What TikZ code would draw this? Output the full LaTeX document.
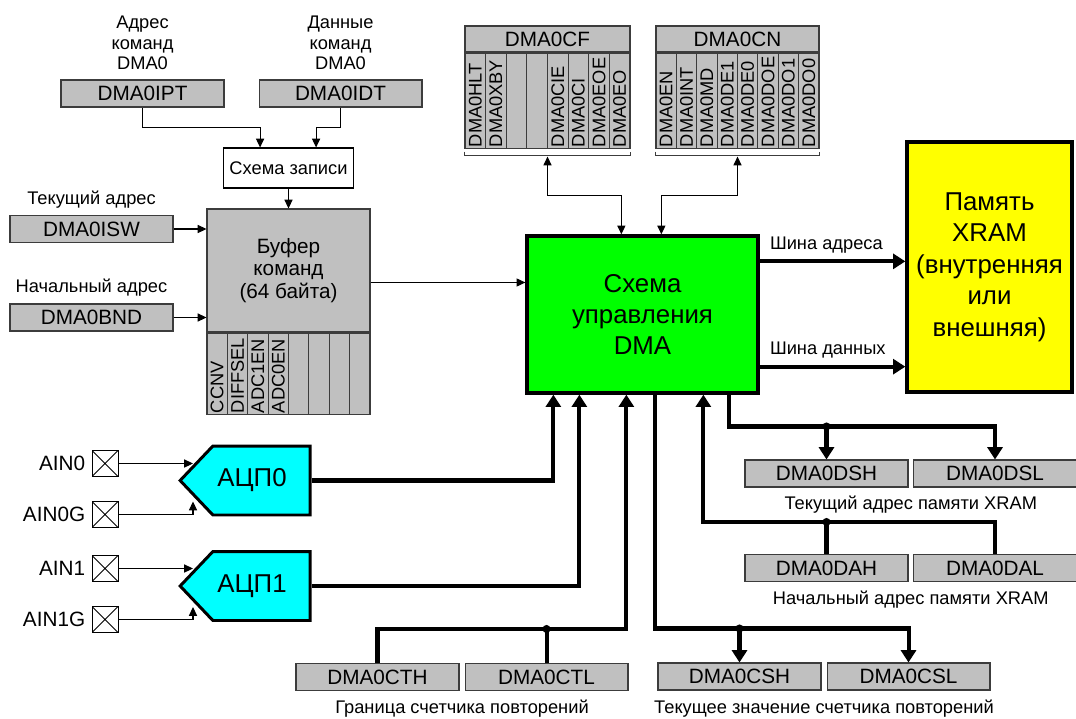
\documentclass[tikz,border=0pt]{standalone}
\usepackage{fontspec}
\setmainfont{Liberation Sans}
\usepackage{xcolor}
\usepackage{tikz}
\usetikzlibrary{arrows.meta, positioning, calc, shapes.symbols}

\definecolor{regfill}{RGB}{192,192,192}
\definecolor{regline}{RGB}{60,60,60}
\definecolor{ctrlfill}{RGB}{0,255,0}
\definecolor{memfill}{RGB}{255,255,0}
\definecolor{adcfill}{RGB}{0,255,255}

\newcommand\regfnt{\fontsize{11.8}{12.6}\selectfont}
\newcommand\lblfnt{\fontsize{10.4}{11.9}\selectfont}
\newcommand\bigfnt{\fontsize{14.7}{17.9}\selectfont}

\tikzset{
  %% Register box
  reg/.style={
    rectangle, draw=regline, fill=regfill,
    minimum width=3.26cm, minimum height=0.54cm,
    inner sep=0pt, font=\regfnt, line width=0.6pt
  },
  %% One bit of a register
  bitcell/.style={
    rectangle, draw=regline, fill=regfill,
    minimum width=#1, inner sep=0pt, line width=0.6pt
  },
  bittxt/.style={rotate=90, anchor=west, inner sep=0.6pt, font=\lblfnt},
  %% Plain label
  lbl/.style={font=\lblfnt, inner sep=0pt, align=center},
  %% Input pad
  pad/.style={
    rectangle, draw, minimum size=0.52cm, inner sep=0pt, line width=0.5pt,
    path picture={
      \draw[line width=0.5pt]
        (path picture bounding box.south west) -- (path picture bounding box.north east)
        (path picture bounding box.north west) -- (path picture bounding box.south east);
    }
  },
  %% ADC block
  adc/.style={
    signal, signal to=west, signal pointer angle=93,
    draw=black, fill=adcfill, line width=1.7pt,
    minimum width=2.6cm, minimum height=1.38cm,
    inner sep=0pt, font=\bigfnt
  },
  %% Arrows and buses
  arr/.style={-{Triangle[length=5pt,width=4.6pt]}, line width=0.6pt},
  darr/.style={{Triangle[length=5pt,width=4.6pt]}-{Triangle[length=5pt,width=4.6pt]},
               line width=0.6pt},
  bus/.style={line width=2.3pt},
  busarr/.style={bus, -{Triangle[length=7pt,width=8.5pt]}},
  dot/.style={circle, fill=black, inner sep=0pt, minimum size=4.6pt},
}

\begin{document}
\begin{tikzpicture}[x=0.02cm, y=-0.02cm]
  \useasboundingbox (0,0) rectangle (1076,718);

  %% Command address / data registers
  \node[reg] (ipt) at (142.5,93.5) {DMA0IPT};
  \node[reg, right=0.68cm of ipt] (idt) {DMA0IDT};
  \node[lbl, above=0.18cm of ipt] (iptlbl) {Адрес\\команд\\DMA0};
  \node[lbl, above=0.18cm of idt] (idtlbl) {Данные\\команд\\DMA0};

  %% Write logic
  \node[rectangle, draw, fill=white, line width=0.6pt, font=\lblfnt,
        minimum width=2.58cm, minimum height=0.8cm] (wr) at (288.5,168)
        {Схема записи};

  %% Command buffer
  \node[reg, minimum height=2.46cm, align=center] (buf) at (288.5,270.5)
        {Буфер\\команд\\(64 байта)};
  \foreach \b [count=\i] in {CCNV,DIFFSEL,ADC1EN,ADC0EN,{},{},{},{}} {
    \node[bitcell=0.4075cm, minimum height=1.62cm, anchor=north west] (bf\i)
          at ($(buf.south west)+(\i*20.375-20.375,0)$) {};
    \node[bittxt] at (bf\i.south) {\b};
  }

  %% Current / start address
  \node[reg] (isw) at (91.5,229) {DMA0ISW};
  \node[lbl, above=0.13cm of isw] (iswlbl) {Текущий адрес};
  \node[reg] (bnd) at (91.5,317.5) {DMA0BND};
  \node[lbl, above=0.13cm of bnd] (bndlbl) {Начальный адрес};

  %% DMA control and XRAM
  \node[rectangle, draw, fill=ctrlfill, line width=1.9pt, align=center,
        font=\bigfnt, minimum width=4.62cm, minimum height=3.14cm]
        (ctrl) at (642.5,314.5) {Схема\\управления\\DMA};
  \node[rectangle, draw, fill=memfill, line width=1.9pt, align=center,
        font=\bigfnt, minimum width=3.3cm, minimum height=5cm]
        (xram) at (989.5,267) {Память\\XRAM\\(внутренняя\\или\\внешняя)};

  %% DMA0CF
  \node[reg, minimum width=3.3cm, minimum height=0.52cm] (cf) at (547.5,39) {DMA0CF};
  \foreach \b [count=\i] in {DMA0HLT,DMA0XBY,{},{},DMA0CIE,DMA0CI,DMA0EOE,DMA0EO} {
    \node[bitcell=0.4125cm, minimum height=1.9cm, anchor=north west] (cf\i)
          at ($(cf.south west)+(\i*20.625-20.625,0)$) {};
    \node[bittxt] at (cf\i.south) {\b};
  }
  \draw[draw=regline, line width=0.6pt] ($(cf1.south west)+(0,3)$) -- ++(0,4)
        -| ($(cf8.south east)+(0,3)$);

  %% DMA0CN
  \node[reg, minimum width=3.26cm, minimum height=0.52cm] (cn) at (737.5,39) {DMA0CN};
  \foreach \b [count=\i] in {DMA0EN,DMA0INT,DMA0MD,DMA0DE1,DMA0DE0,DMA0DOE,DMA0DO1,DMA0DO0} {
    \node[bitcell=0.4075cm, minimum height=1.9cm, anchor=north west] (cn\i)
          at ($(cn.south west)+(\i*20.375-20.375,0)$) {};
    \node[bittxt] at (cn\i.south) {\b};
  }
  \draw[draw=regline, line width=0.6pt] ($(cn1.south west)+(0,3)$) -- ++(0,4)
        -| ($(cn8.south east)+(0,3)$);

  %% ADCs and pads
  \node[adc] (adc0) at (261.5,480.5) {\hspace*{-0.38cm}АЦП0};
  \node[adc] (adc1) at (261.5,586) {\hspace*{-0.38cm}АЦП1};
  \node[pad] (p0)  at (105,463.5) {};
  \node[pad] (p0g) at (105,514.5) {};
  \node[pad] (p1)  at (105,568.5) {};
  \node[pad] (p1g) at (105,619.5) {};
  \node[lbl, font=\regfnt, left=0.12cm of p0]  (p0l)  {AIN0};
  \node[lbl, font=\regfnt, left=0.12cm of p0g] (p0gl) {AIN0G};
  \node[lbl, font=\regfnt, left=0.12cm of p1]  (p1l)  {AIN1};
  \node[lbl, font=\regfnt, left=0.12cm of p1g] (p1gl) {AIN1G};

  %% Address registers in XRAM
  \node[reg] (dsh) at (826.5,473.5) {DMA0DSH};
  \node[reg, right=0.09cm of dsh] (dsl) {DMA0DSL};
  \coordinate (dsmid) at ($(dsh.south)!.5!(dsl.south)$);
  \node[lbl, below=0.17cm of dsmid] (dslbl) {Текущий адрес памяти XRAM};
  \node[reg] (dah) at (826.5,568) {DMA0DAH};
  \node[reg, right=0.09cm of dah] (dal) {DMA0DAL};
  \coordinate (damid) at ($(dah.south)!.5!(dal.south)$);
  \node[lbl, below=0.17cm of damid] (dalbl) {Начальный адрес памяти XRAM};

  %% Repeat counters
  \node[reg] (cth) at (377.5,677) {DMA0CTH};
  \node[reg, right=0.1cm of cth] (ctl) {DMA0CTL};
  \coordinate (ctmid) at ($(cth.south)!.5!(ctl.south)$);
  \node[lbl, below=0.18cm of ctmid] (ctlbl) {Граница счетчика повторений};
  \node[reg] (csh) at (739.5,676.5) {DMA0CSH};
  \node[reg, right=0.1cm of csh] (csl) {DMA0CSL};
  \coordinate (csmid) at ($(csh.south)!.5!(csl.south)$);
  \node[lbl, below=0.18cm of csmid] (cslbl) {Текущее значение счетчика повторений};

  %% Thin arrows
  \coordinate (wrin1) at ($(wr.north west)+(37,0)$);
  \coordinate (wrin2) at ($(wr.north west)+(93,0)$);
  \draw[arr] (ipt.south) -- ++(0,20) -| (wrin1);
  \draw[arr] (idt.south) -- ++(0,20) -| (wrin2);
  \draw[arr] (wr) -- (buf);
  \draw[arr] (isw) -- (isw -| buf.west);
  \draw[arr] (bnd) -- (bnd -| buf.west);
  \coordinate (bufout) at ($(buf.north east)+(0,74)$);
  \draw[arr] (bufout) -- (bufout -| ctrl.west);

  %% Control registers <-> control
  \coordinate (cfbr) at ($(cf1.south west)!.5!(cf8.south east)+(0,8)$);
  \coordinate (cnbr) at ($(cn1.south west)!.5!(cn8.south east)+(0,8)$);
  \coordinate (cfin) at ($(ctrl.north west)+(96,0)$);
  \coordinate (cnin) at ($(ctrl.north west)+(136,0)$);
  \draw[darr] (cfbr) |- ($(cfbr)!.5!(cfin)$) -| (cfin);
  \draw[darr] (cnbr) |- ($(cnbr)!.5!(cnin)$) -| (cnin);

  %% Pads -> ADCs
  \coordinate (a0p) at ($(adc0.center)+(-68.5,-17.5)$);
  \coordinate (a0n) at ($(adc0.center)+(-68.5,21)$);
  \coordinate (a1p) at ($(adc1.center)+(-68.5,-17.5)$);
  \coordinate (a1n) at ($(adc1.center)+(-68.5,21)$);
  \draw[arr] (p0.east) -- (p0.east -| a0p);
  \draw[arr] (p0g.east) -| (a0n);
  \draw[arr] (p1.east) -- (p1.east -| a1p);
  \draw[arr] (p1g.east) -| (a1n);

  %% ADCs -> control
  \coordinate (a0in) at ($(ctrl.south west)+(28,0)$);
  \coordinate (a1in) at ($(ctrl.south west)+(54,0)$);
  \draw[busarr] (adc0.east) -| (a0in);
  \draw[busarr] (adc1.east) -| (a1in);

  %% Buses to XRAM
  \coordinate (abus) at ($(ctrl.north east)+(0,27)$);
  \coordinate (dbus) at ($(ctrl.south east)+(0,-28)$);
  \draw[busarr] (abus) -- (abus -| xram.west);
  \draw[busarr] (dbus) -- (dbus -| xram.west);
  \node[lbl, anchor=south west] (ablbl) at ($(abus)+(10,-8)$) {Шина адреса};
  \node[lbl, anchor=south west] (dblbl) at ($(dbus)+(10,-8)$) {Шина данных};

  %% Repeat counter buses
  \coordinate (ctin) at ($(ctrl.south west)+(101,0)$);
  \coordinate (ctj) at ($(cth.north)+(0,-34)$);
  \draw[busarr] (cth.north) |- (ctin |- ctj) -- (ctin);
  \draw[bus] (ctl.north) -- (ctl.north |- ctj);
  \node[dot] (ctdot) at (ctl.north |- ctj) {};

  \coordinate (csout) at ($(ctrl.south west)+(130,0)$);
  \coordinate (csj) at ($(csh.north)+(0,-34)$);
  \draw[busarr] (csout) |- (csl.north |- csj) -- (csl.north);
  \draw[busarr] (csh.north |- csj) -- (csh.north);
  \node[dot] (csdot) at (csh.north |- csj) {};

  %% XRAM address buses
  \coordinate (dsout) at ($(ctrl.south west)+(204,0)$);
  \coordinate (dsj) at ($(dsh.north)+(0,-33)$);
  \draw[busarr] (dsout) |- (dsl.north |- dsj) -- (dsl.north);
  \draw[busarr] (dsh.north |- dsj) -- (dsh.north);
  \node[dot] (dsdot) at (dsh.north |- dsj) {};

  \coordinate (dain) at ($(ctrl.south west)+(178,0)$);
  \coordinate (daj) at ($(dah.north)+(0,-32)$);
  \draw[busarr] (dal.north) |- (dain |- daj) -- (dain);
  \draw[bus] (dah.north) -- (dah.north |- daj);
  \node[dot] (dadot) at (dah.north |- daj) {};

\end{tikzpicture}
\end{document}
